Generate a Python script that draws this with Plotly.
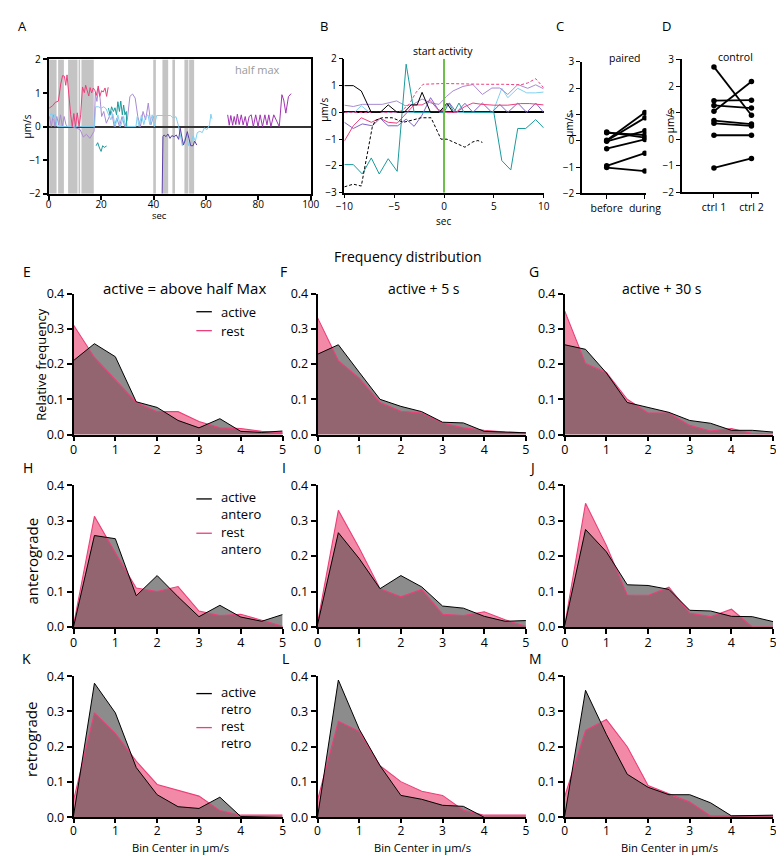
import plotly.graph_objects as go

W, H = 784, 856
FONT = "Open Sans"

# ---------------- DATA ----------------
# Panel A: traces (sec, um/s)
A_pink_x = [0.2, 1.5, 2.5, 3.7, 4.6, 5.3, 6.0, 6.5, 7.0, 7.8, 8.4, 9.0, 9.6, 10.2, 10.9, 11.6, 12.2, 12.9, 13.6, 14.1, 14.7, 15.3, 15.8, 16.4, 17.0, 17.6, 18.2, 18.9, 19.5, 20.2, 20.8, 21.5, 22.1, 22.7]
A_pink_y = [0.55, 0.62, 0.72, 0.76, 1.27, 1.52, 1.50, 1.23, 1.54, 0.72, 0.35, 0.0, 0.39, 0.0, 0.41, 0.0, 0.35, 1.18, 1.01, 1.23, 1.06, 0.91, 1.16, 1.0, 1.15, 1.08, 0.93, 1.21, 0.9, 1.07, 1.03, 1.15, 0.9, 1.17]
A_lblue_x = [0.5, 1.2, 1.8, 2.5, 3.2, 17.5, 17.9, 19.0, 20.0, 21.0, 21.9, 22.8, 23.7, 24.5, 25.4, 26.4, 27.4, 28.6, 29.3, 33.3, 33.8, 34.5, 35.4, 36.3, 37.0, 37.9, 38.6, 39.5, 40.3, 41.2, 46.5, 47.3, 48.6, 49.6, 50.3, 51.0, 51.8, 52.7, 53.4, 54.3, 55.1, 56.0, 56.7, 57.7, 58.6, 59.4, 60.4, 61.4, 61.9, 62.3]
A_lblue_y = [0.35, 0.39, 0.23, 0.37, 0.0, 0.0, 0.59, 0.59, 0.55, 0.59, 0.53, 0.35, 0.2, 0.37, 0.0, 0.35, 0.0, 0.3, 0.0, 0.0, 0.3, 0.0, 0.35, 0.06, 0.3, 0.35, 0.06, 0.35, 0.0, 0.33, 0.33, 0.27, 0.29, 0.0, -0.35, -0.57, -0.43, -0.23, -0.57, -0.51, -0.28, -0.43, -0.18, -0.14, -0.18, -0.04, -0.09, 0.06, 0.37, 0.23]
A_lav_x = [0.3, 1.0, 1.7, 2.4, 3.1, 3.8, 4.5, 5.2, 5.9, 6.6, 7.3, 9.0, 12.0, 13.2, 14.4, 15.7, 16.5, 17.3, 17.8, 18.4, 19.0, 19.6, 20.2, 21.0, 22.0, 23.0, 24.0, 25.0, 26.0, 27.0, 28.0, 29.0, 30.0, 31.0, 32.0, 33.0, 34.0, 35.0, 36.0, 37.0, 38.0, 39.0, 40.0]
A_lav_y = [0.3, 0.0, 0.35, 0.0, 0.3, 0.05, 0.35, 0.0, 0.3, 0.05, 0.0, 0.0, -0.09, -0.31, -0.23, -0.35, -0.25, -0.14, 1.0, 0.75, 1.15, 0.85, 0.3, 0.45, 0.1, 0.3, 0.45, 0.0, 0.25, 0.0, 0.3, 0.0, 0.2, 0.9, 0.97, 0.85, 0.3, 0.0, 0.45, 0.2, 0.7, 0.05, 0.3]
A_teal_x = [18.1, 18.7, 19.4, 20.0, 20.6, 21.2, 22.1, None, 22.8, 23.4, 24.0, 24.7, 25.3, 25.9, 26.4, 27.0, 27.5, 28.1, 28.6, 29.1, 29.6, 29.8]
A_teal_y = [-0.57, -0.48, -0.64, -0.74, -0.57, -0.62, -0.58, None, 0.55, 0.35, 0.59, 0.45, 0.56, 0.35, 0.74, 0.45, 0.76, 0.35, 0.64, 0.35, 0.45, 0.0]
A_indigo_x = [43.3, 43.6, 44.0, 44.8, 45.5, 46.3, 47.0, 47.9, 48.7, 49.6, 50.2, 50.8, 51.4, 52.0, 52.9, 53.5, 54.2, 55.1, 55.7, 56.5]
A_indigo_y = [-2.0, -0.3, -0.25, -0.3, -0.22, -0.35, -0.27, -0.3, -0.25, -0.38, -0.05, -0.3, -0.55, -0.43, -0.15, -0.35, -0.57, -0.57, -0.43, -0.55]
A_mag_x = [68.3, 68.9, 69.5, 70.2, 70.8, 71.4, 72.0, 72.7, 73.5, 74.2, 75.0, 75.7, 76.5, 77.3, 78.1, 79.0, 79.9, 80.7, 81.6, 82.5, 83.3, 84.0, 84.8, 85.9, 88.0, 89.0, 89.7, 90.5, 91.5, 92.5]
A_mag_y = [0.35, 0.04, 0.33, 0.04, 0.3, 0.06, 0.37, 0.06, 0.35, 0.05, 0.3, 0.0, 0.3, 0.35, 0.0, 0.35, 0.0, 0.35, 0.0, 0.35, 0.05, 0.35, 0.0, 0.35, 0.0, 0.95, 0.79, 0.4, 0.89, 0.98]
A_band_start = [0.2, 3.6, 7.4, 11.4, 12.5, 39.9, 43.4, 47.2, 51.8, 53.6]
A_band_end = [3.0, 5.8, 11.0, 12.0, 17.2, 40.9, 45.6, 48.2, 53.3, 55.5]

# Panel B: traces aligned to start of activity (sec, um/s)
B_black_x = [-10, -9.1, -8.3, -7.3, -6.4, -5.6, -4.7, -4.0, -3.3, -2.7, -2.2, -1.35, -0.5, 0.3, 0.9]
B_black_y = [1.0, 1.0, 0.8, 0.0, 0.0, 0.28, 0.0, 0.0, 0.28, 0.28, 0.75, 0.0, 0.0, 0.34, 0.0]
B_blackdash_x = [-10, -9.1, -8.3, -7.2, -6.9, -6.2, -5.2, -4.1, -3.3, -2.3, -1.3, -0.3, 0.3, 1.25, 2.1, 2.9, 3.4, 3.85]
B_blackdash_y = [-2.78, -2.68, -2.75, -0.55, -0.3, -0.2, -0.2, -0.37, -0.3, -0.2, -0.2, -1.0, -1.0, -1.16, -1.3, -1.1, -1.05, -1.12]
B_teal_x = [-10, -9.1, -8.2, -7.3, -6.5, -5.6, -4.7, -3.8, -3.0, 0.0, 0.5, 1.0, 1.5, 2.0, 5.0, 5.8, 6.7, 7.4, 8.2, 9.2, 10]
B_teal_y = [-1.95, -1.95, -2.3, -1.7, -2.3, -1.73, -2.2, 1.8, 0.0, 0.0, 0.35, 0.0, 0.35, 0.0, 0.0, -1.8, -2.15, -0.6, -0.6, -0.27, -0.58]
B_pinkdash_x = [-10, -5, -4.3, -3.5, -2.8, -2.1, 0, 2, 4, 6, 7.7, 8.4, 9.2, 10]
B_pinkdash_y = [0, 0, 0.05, 0.3, 0.75, 1.05, 1.08, 1.06, 1.05, 1.05, 1.03, 1.1, 1.26, 0.92]
B_pink_x = [-10, -9.1, -8.3, -7.3, -6.4, -5.6, -4.7, -3.8, -3.0, -2.2, -1.4, -0.6, 0.3, 1.2, 2.1, 2.9, 3.8, 5, 6.4, 7.7, 8.6, 10]
B_pink_y = [-1.07, -0.5, -0.2, -0.37, -0.22, -0.37, -0.4, -0.05, 0.28, 0.28, 0.45, 0.1, 0.0, 0.0, 0.22, 0.35, 0.3, 0.27, 0.27, 0.33, 0.33, 0.28]
B_lav_x = [-10, -9.1, -8.2, -7.2, -6.2, -4.75, -3.9, -3.1, -2.2, -1.3, -0.5, 0.26, 0.9, 1.9, 2.9, 3.85, 4.8, 5.6, 6.4, 7.4, 8.4, 9.2, 10]
B_lav_y = [0.27, 0.22, 0.3, 0.3, 0.3, 0.43, 0.25, 0.3, 0.5, 0.35, 0.3, 0.6, 0.8, 0.97, 1.04, 0.67, 0.91, 0.91, 0.67, 1.04, 0.9, 1.03, 0.88]
B_lblue_x = [-10, -9, -8.3, -7.5, 4.9, 5.8, 6.4, 7.4, 8.3, 9.2, 10]
B_lblue_y = [0, 0, 0.25, 0, 0, 0.9, 0.55, 0.9, 0.73, 0.73, 0.76]
B_purple_x = [-10, -9.1, -8.2, -7.2, -6.4, -5.6, -4.65, -3.8, -3.0, -2.2, -1.35, -0.4, 0.55, 1.25, 2.1, 2.9, 3.85, 4.8, 5.6, 6.4, 7.4, 8.3, 9.2, 10]
B_purple_y = [-0.37, -0.6, -0.43, -0.5, -0.22, -0.5, -0.5, -0.25, -0.52, -0.1, 0.55, 0.0, 0.35, 0.0, 0.34, 0.0, 0.35, 0.0, 0.3, 0.0, 0.35, 0.0, 0.35, 0.0]

# Panel C: paired
C_categories = ["before", "during"]
C_before = [0.33, 0.30, 0.02, 0.0, -0.02, -0.30, -0.95, -1.02]
C_during = [0.12, 0.22, 1.07, 0.87, 0.38, 0.05, -0.47, -1.15]
# Panel D: control
D_categories = ["ctrl 1", "ctrl 2"]
D_ctrl1 = [2.72, 1.05, 1.45, 1.27, 0.70, 0.60, 0.15, -1.08]
D_ctrl2 = [0.90, 2.17, 1.47, 1.17, 0.57, 0.50, 0.15, -0.72]

# Frequency distributions (bin centers in um/s)
bin_centers = [0, 0.5, 1, 1.5, 2, 2.5, 3, 3.5, 4, 4.5, 5]
E_active = [0.21, 0.258, 0.221, 0.093, 0.077, 0.040, 0.019, 0.045, 0.009, 0.006, 0.010]
E_rest   = [0.311, 0.219, 0.156, 0.091, 0.065, 0.065, 0.037, 0.019, 0.017, 0.009, 0.005]
F_active = [0.228, 0.255, 0.177, 0.100, 0.080, 0.065, 0.035, 0.033, 0.009, 0.006, 0.005]
F_rest   = [0.332, 0.210, 0.160, 0.091, 0.066, 0.061, 0.033, 0.019, 0.012, 0.007, 0.005]
G_active = [0.255, 0.242, 0.175, 0.091, 0.077, 0.063, 0.040, 0.032, 0.012, 0.012, 0.007]
G_rest   = [0.351, 0.202, 0.176, 0.100, 0.061, 0.061, 0.026, 0.010, 0.017, 0.003, 0.001]
H_active = [0.0, 0.258, 0.249, 0.088, 0.145, 0.085, 0.029, 0.061, 0.028, 0.016, 0.035]
H_rest   = [0.005, 0.312, 0.209, 0.110, 0.100, 0.114, 0.045, 0.032, 0.036, 0.020, 0.002]
I_active = [0.006, 0.266, 0.193, 0.108, 0.145, 0.113, 0.059, 0.053, 0.030, 0.016, 0.018]
I_rest   = [0.011, 0.329, 0.223, 0.108, 0.085, 0.106, 0.036, 0.032, 0.043, 0.020, 0.002]
J_active = [0.004, 0.275, 0.212, 0.119, 0.117, 0.106, 0.047, 0.045, 0.030, 0.029, 0.015]
J_rest   = [0.004, 0.349, 0.230, 0.090, 0.089, 0.112, 0.039, 0.029, 0.050, 0.0, 0.0]
K_active = [0.004, 0.380, 0.296, 0.141, 0.064, 0.030, 0.025, 0.057, 0.002, 0.0, 0.0]
K_rest   = [0.048, 0.296, 0.238, 0.159, 0.093, 0.076, 0.060, 0.019, 0.006, 0.006, 0.006]
L_active = [0.0, 0.389, 0.250, 0.146, 0.062, 0.051, 0.034, 0.031, 0.0, 0.0, 0.0]
L_rest   = [0.048, 0.272, 0.243, 0.146, 0.101, 0.074, 0.062, 0.020, 0.006, 0.006, 0.006]
M_active = [0.004, 0.360, 0.235, 0.122, 0.085, 0.064, 0.064, 0.041, 0.004, 0.004, 0.006]
M_rest   = [0.059, 0.246, 0.277, 0.200, 0.090, 0.066, 0.043, 0.004, 0.004, 0.004, 0.004]

# ---------------- STYLE ----------------
PINK = "#ec3f7b"
PINK_FILL = "#f28aa7"
GRAY_FILL = "#8c8c8c"
OVERLAP = "#936570"
C_LBLUE = "#7fd0f2"
C_LAV = "#a98ad3"
C_TEAL = "#1b9a9c"
C_INDIGO = "#5b3fa6"
C_MAG = "#a233b3"
C_PURPLE = "#7f63c9"

fig = go.Figure()


def xd(a, b):
    return [a / W, b / W]


def yd(top, bottom):
    return [1 - bottom / H, 1 - top / H]


def axname(n):
    return "" if n == 1 else str(n)


def set_axes(n, xpx, ypx, xcfg, ycfg):
    s = axname(n)
    base = dict(showline=True, linecolor="black", ticks="outside", tickcolor="black",
                showgrid=False, zeroline=False, tickfont=dict(family=FONT, size=10, color="black"))
    xa = dict(base, domain=xd(*xpx), anchor="y" + s)
    xa.update(xcfg)
    ya = dict(base, domain=yd(*ypx), anchor="x" + s)
    ya.update(ycfg)
    fig.layout["xaxis" + s] = xa
    fig.layout["yaxis" + s] = ya


def line(n, x, y, color, width=1.0, dash="solid"):
    s = axname(n)
    fig.add_trace(go.Scatter(x=x, y=y, mode="lines", line=dict(color=color, width=width, dash=dash),
                             xaxis="x" + s, yaxis="y" + s, hoverinfo="skip", connectgaps=False))


# ---- Panel A ----
set_axes(1, (32.7, 303), (43.3, 180.3),
         dict(range=[0, 100], tickvals=[0, 20, 40, 60, 80, 100], mirror=True, linewidth=2.2, ticklen=4, tickwidth=1.5,
              ticklabelstandoff=-4),
         dict(range=[-2, 2], tickvals=[-2, -1, 0, 1, 2], mirror=True, linewidth=2.2, ticklen=4, tickwidth=1.5,
              zeroline=True, zerolinecolor="#333333", zerolinewidth=2))
for a, b in zip(A_band_start, A_band_end):
    fig.add_shape(type="rect", xref="x", yref="y", x0=a, x1=b, y0=-2, y1=2,
                  fillcolor="#c4c4c4", line=dict(width=0), layer="below")
line(1, A_lav_x, A_lav_y, C_LAV)
line(1, A_lblue_x, A_lblue_y, C_LBLUE)
line(1, A_teal_x, A_teal_y, C_TEAL)
line(1, A_pink_x, A_pink_y, PINK)
line(1, A_indigo_x, A_indigo_y, C_INDIGO)
line(1, A_mag_x, A_mag_y, C_MAG)

# ---- Panel B ----
set_axes(2, (337.7, 543.3), (42.7, 179.3),
         dict(range=[-10, 10], tickvals=[-10, -5, 0, 5, 10], linewidth=1.5, ticklen=4, tickwidth=1.2),
         dict(range=[-3, 2], tickvals=[-3, -2, -1, 0, 1, 2], linewidth=1.5, ticklen=4, tickwidth=1.2,
              zeroline=True, zerolinecolor="black", zerolinewidth=1.5))
fig.add_shape(type="line", xref="x2", yref="y2", x0=0, x1=0, y0=-3, y1=2,
              line=dict(color="#6cc04a", width=2))
line(2, B_lblue_x, B_lblue_y, C_LBLUE)
line(2, B_lav_x, B_lav_y, C_LAV)
line(2, B_teal_x, B_teal_y, C_TEAL)
line(2, B_purple_x, B_purple_y, C_PURPLE)
line(2, B_pink_x, B_pink_y, PINK)
line(2, B_pinkdash_x, B_pinkdash_y, PINK, dash="3px,2px")
line(2, B_black_x, B_black_y, "black")
line(2, B_blackdash_x, B_blackdash_y, "black", dash="3px,2px")

# ---- Panel C ----
set_axes(3, (582.7, 649.3), (45.7, 180),
         dict(range=[-0.65, 1.04], tickvals=[0, 1], ticktext=C_categories, linewidth=1.5, ticklen=4, tickwidth=1.2,
              tickfont=dict(family=FONT, size=10.5, color="black")),
         dict(range=[-2, 3], tickvals=[-2, -1, 0, 1, 2, 3], linewidth=1.5, ticklen=4, tickwidth=1.2))
for b, d in zip(C_before, C_during):
    fig.add_trace(go.Scatter(x=[0, 1], y=[b, d], mode="lines+markers", xaxis="x3", yaxis="y3",
                             line=dict(color="black", width=1.8), marker=dict(color="black", size=5.5),
                             hoverinfo="skip"))

# ---- Panel D ----
set_axes(4, (685.7, 765), (43.3, 179),
         dict(range=[-0.86, 1.19], tickvals=[0, 1], ticktext=D_categories, linewidth=1.5, ticklen=4, tickwidth=1.2,
              tickfont=dict(family=FONT, size=10.5, color="black")),
         dict(range=[-2, 3], tickvals=[-2, -1, 0, 1, 2, 3], linewidth=1.5, ticklen=4, tickwidth=1.2))
for a, b in zip(D_ctrl1, D_ctrl2):
    fig.add_trace(go.Scatter(x=[0, 1], y=[a, b], mode="lines+markers", xaxis="x4", yaxis="y4",
                             line=dict(color="black", width=1.8), marker=dict(color="black", size=5.5),
                             hoverinfo="skip"))


# ---- Frequency distributions ----
def pw_min(x, a, b):
    xs, ys = [], []
    for i in range(len(x)):
        xs.append(x[i])
        ys.append(min(a[i], b[i]))
        if i < len(x) - 1:
            d0 = a[i] - b[i]
            d1 = a[i + 1] - b[i + 1]
            if d0 * d1 < 0:
                t = d0 / (d0 - d1)
                xs.append(x[i] + t * (x[i + 1] - x[i]))
                ys.append(a[i] + t * (a[i + 1] - a[i]))
    return xs, ys


cols = [(58.3, 274), (310, 525), (565, 780)]
rows = [(282.3, 426), (477.7, 622.3), (672.5, 816.5)]
hist = [(E_active, E_rest), (F_active, F_rest), (G_active, G_rest),
        (H_active, H_rest), (I_active, I_rest), (J_active, J_rest),
        (K_active, K_rest), (L_active, L_rest), (M_active, M_rest)]
for k, (act, rest) in enumerate(hist):
    n = 5 + k
    r, c = divmod(k, 3)
    last_row = (r == 2)
    set_axes(n, cols[c], rows[r],
             dict(range=[0, 5], tickvals=[0, 1, 2, 3, 4, 5], linewidth=1.5, ticklen=4 if last_row else 5,
                  tickwidth=1.5, ticklabelstandoff=-2,
                  tickfont=dict(family=FONT, size=12 if last_row else 12.5, color="black")),
             dict(range=[0, 0.4], tickvals=[0, 0.1, 0.2, 0.3, 0.4], tickformat=".1f", linewidth=1.5,
                  ticklen=5, tickwidth=1.5, tickfont=dict(family=FONT, size=12.5, color="black")))
    s = axname(n)
    fig.add_trace(go.Scatter(x=bin_centers, y=act, mode="lines", fill="tozeroy", fillcolor=GRAY_FILL,
                             line=dict(width=0, color=GRAY_FILL), xaxis="x" + s, yaxis="y" + s, hoverinfo="skip"))
    fig.add_trace(go.Scatter(x=bin_centers, y=rest, mode="lines", fill="tozeroy", fillcolor=PINK_FILL,
                             line=dict(width=0, color=PINK_FILL), xaxis="x" + s, yaxis="y" + s, hoverinfo="skip"))
    mx, my = pw_min(bin_centers, act, rest)
    fig.add_trace(go.Scatter(x=mx, y=my, mode="lines", fill="tozeroy", fillcolor=OVERLAP,
                             line=dict(width=0, color=OVERLAP), xaxis="x" + s, yaxis="y" + s, hoverinfo="skip"))
    line(n, bin_centers, rest, PINK, width=1.1)
    line(n, bin_centers, act, "black", width=1.0)

# ---------------- TEXT ----------------
ann = []


def text(x, y, t, size=12, color="black", xanchor="center", angle=0, yanchor="middle", align="center"):
    ann.append(dict(x=x / W, y=1 - y / H, xref="paper", yref="paper", text=t, showarrow=False,
                    xanchor=xanchor, yanchor=yanchor, textangle=angle, borderpad=0, align=align,
                    font=dict(family=FONT, size=size, color=color)))


for lbl, x, y, sz in [("A", 6, 9, 13), ("B", 316.7, 9, 13), ("C", 560, 9, 13), ("D", 670, 9, 13),
                      ("E", 10, 260, 14), ("F", 275, 260, 14), ("G", 533, 260, 14),
                      ("H", 11.7, 460, 14), ("I", 275, 460, 14), ("J", 531.7, 460, 14),
                      ("K", 10, 655, 14), ("L", 277, 655, 14), ("M", 535, 655, 14)]:
    text(x, y, lbl, sz)

text(248, 54, "half max", 11, color="#9a9a9a")
text(146.7, 203, "sec", 9.5)
text(10, 112, "µm/s", 10, angle=-90)
text(439, 35, "start activity", 10.5)
text(440, 208, "sec", 10)
text(317.3, 95, "µm/s", 10, angle=-90)
text(626.7, 41.7, "paired", 10.5)
text(569.3, 110, "µm/s", 10, angle=-90)
text(741.7, 40.7, "control", 10.5)
text(673.3, 106.7, "µm/s", 10, angle=-90)

text(403.3, 244, "Frequency distribution", 14)
text(173.3, 276.7, "active = above half Max", 15)
text(420, 276.7, "active + 5 s", 14)
text(665, 276.7, "active + 30 s", 14)
text(24.5, 355, "Relative frequency", 13, angle=-90)
text(15, 555, "anterograde", 15, angle=-90)
text(15, 737, "retrograde", 15, angle=-90)
for cx in (168.3, 418.3, 673.3):
    text(cx, 856, "Bin Center in µm/s", 11.2, yanchor="bottom")

# legends (decorations): (line y, colour, label lines, label block centre y)
legends = [
    (300.7, "black", ["active"], 300.7), (320, PINK, ["rest"], 320),
    (491.7, "black", ["active", "antero"], 498.9), (526.7, PINK, ["rest", "antero"], 533.7),
    (690.3, "black", ["active", "retro"], 697.7), (725, PINK, ["rest", "retro"], 732.2),
]
for (y, col, lines_, yc) in legends:
    fig.add_shape(type="line", xref="paper", yref="paper", x0=185 / W, x1=201 / W,
                  y0=1 - y / H, y1=1 - y / H, line=dict(color=col, width=1.3))
    text(209, yc, "<br>".join(lines_), 13, xanchor="left", align="left")

fig.update_layout(width=W, height=H, margin=dict(l=0, r=0, t=0, b=0), showlegend=False,
                  plot_bgcolor="white", paper_bgcolor="white", annotations=ann,
                  font=dict(family=FONT))
fig.write_html("out.html")
